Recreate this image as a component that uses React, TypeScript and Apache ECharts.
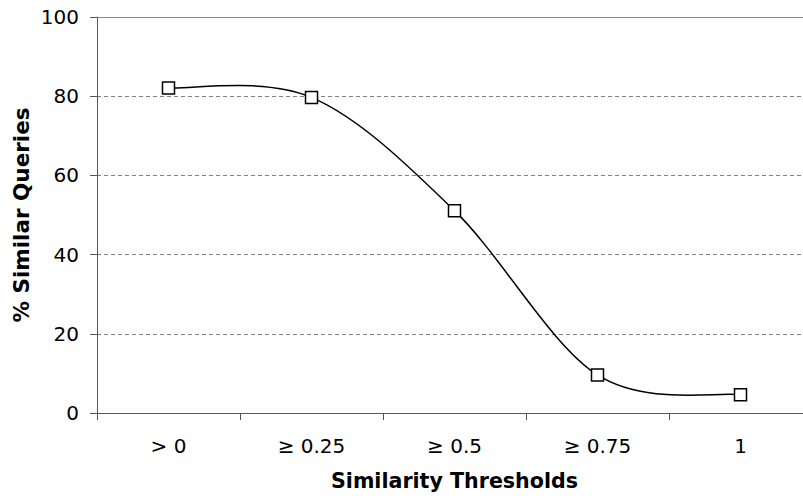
import React, { useEffect, useRef } from "react";
import * as echarts from "echarts";

const categories = ["> 0", "≥ 0.25", "≥ 0.5", "≥ 0.75", "1"];
const similarQueries = [82.1, 79.7, 51.1, 9.6, 4.6];
const yTicks = { min: 0, max: 100, interval: 20 };
const xTitle = "Similarity Thresholds";
const yTitle = "% Similar Queries";

export default function App() {
  const ref = useRef<HTMLDivElement>(null);
  useEffect(() => {
    if (!ref.current) return;
    const chart = echarts.init(ref.current, null, { renderer: "svg" });
    const font = "'DejaVu Sans', Verdana, sans-serif";
    const n = similarQueries.length;
    const pointAt = (api: any, k: number) => {
      const kk = Math.max(0, Math.min(n - 1, k));
      return api.coord([kk, similarQueries[kk]]);
    };
    chart.setOption({
      animation: false,
      backgroundColor: "#ffffff",
      textStyle: { fontFamily: font },
      grid: { left: 97, top: 17, width: 715, height: 397, containLabel: false },
      xAxis: [
        {
          type: "category",
          data: categories,
          boundaryGap: true,
          axisLine: { lineStyle: { color: "#555555", width: 1 } },
          axisTick: { show: true, length: 7, lineStyle: { color: "#555555" } },
          axisLabel: { color: "#000", fontSize: 20, margin: 23, fontFamily: font },
          name: xTitle,
          nameLocation: "middle",
          nameGap: 57,
          nameTextStyle: { color: "#000", fontSize: 20.6, fontWeight: "bold", fontFamily: font },
          splitLine: { show: false },
        },
        {
          type: "category",
          data: categories,
          position: "top",
          axisLine: { lineStyle: { color: "#888888", width: 1 } },
          axisTick: { show: false },
          axisLabel: { show: false },
          splitLine: { show: false },
        },
      ],
      yAxis: {
        type: "value",
        min: yTicks.min,
        max: yTicks.max,
        interval: yTicks.interval,
        axisLine: { show: true, lineStyle: { color: "#555555", width: 1 } },
        axisTick: { show: true, length: 7, lineStyle: { color: "#555555" } },
        axisLabel: { color: "#000", fontSize: 20, margin: 18, fontFamily: font },
        splitLine: { show: true, lineStyle: { color: "#808080", type: [4, 3], width: 1 } },
      },
      graphic: [
        {
          type: "text",
          x: 21,
          y: 215,
          rotation: Math.PI / 2,
          style: {
            text: yTitle,
            fill: "#000",
            font: `bold 21.5px ${font}`,
            textAlign: "center",
            textVerticalAlign: "middle",
          },
        },
      ],
      series: [
        {
          type: "custom",
          data: similarQueries.map((v, i) => [i, v]),
          z: 2,
          renderItem: (params: any, api: any) => {
            const i = params.dataIndex;
            if (i >= n - 1) return null;
            const p0 = pointAt(api, i - 1);
            const p1 = pointAt(api, i);
            const p2 = pointAt(api, i + 1);
            const p3 = pointAt(api, i + 2);
            return {
              type: "bezierCurve",
              shape: {
                x1: p1[0],
                y1: p1[1],
                cpx1: p1[0] + (p2[0] - p0[0]) / 6,
                cpy1: p1[1] + (p2[1] - p0[1]) / 6,
                cpx2: p2[0] - (p3[0] - p1[0]) / 6,
                cpy2: p2[1] - (p3[1] - p1[1]) / 6,
                x2: p2[0],
                y2: p2[1],
              },
              style: { stroke: "#000000", fill: null, lineWidth: 1.5 },
            };
          },
        },
        {
          type: "scatter",
          data: similarQueries,
          z: 3,
          symbol: "rect",
          symbolSize: 12,
          itemStyle: { color: "#ffffff", borderColor: "#000000", borderWidth: 1.5, opacity: 1 },
        },
      ],
    });
    return () => chart.dispose();
  }, []);
  return (
    <div style={{ position: "fixed", left: 0, top: 0, width: 803, height: 496, overflow: "hidden", background: "#fff" }}>
      <div ref={ref} style={{ width: 830, height: 496 }} />
    </div>
  );
}
